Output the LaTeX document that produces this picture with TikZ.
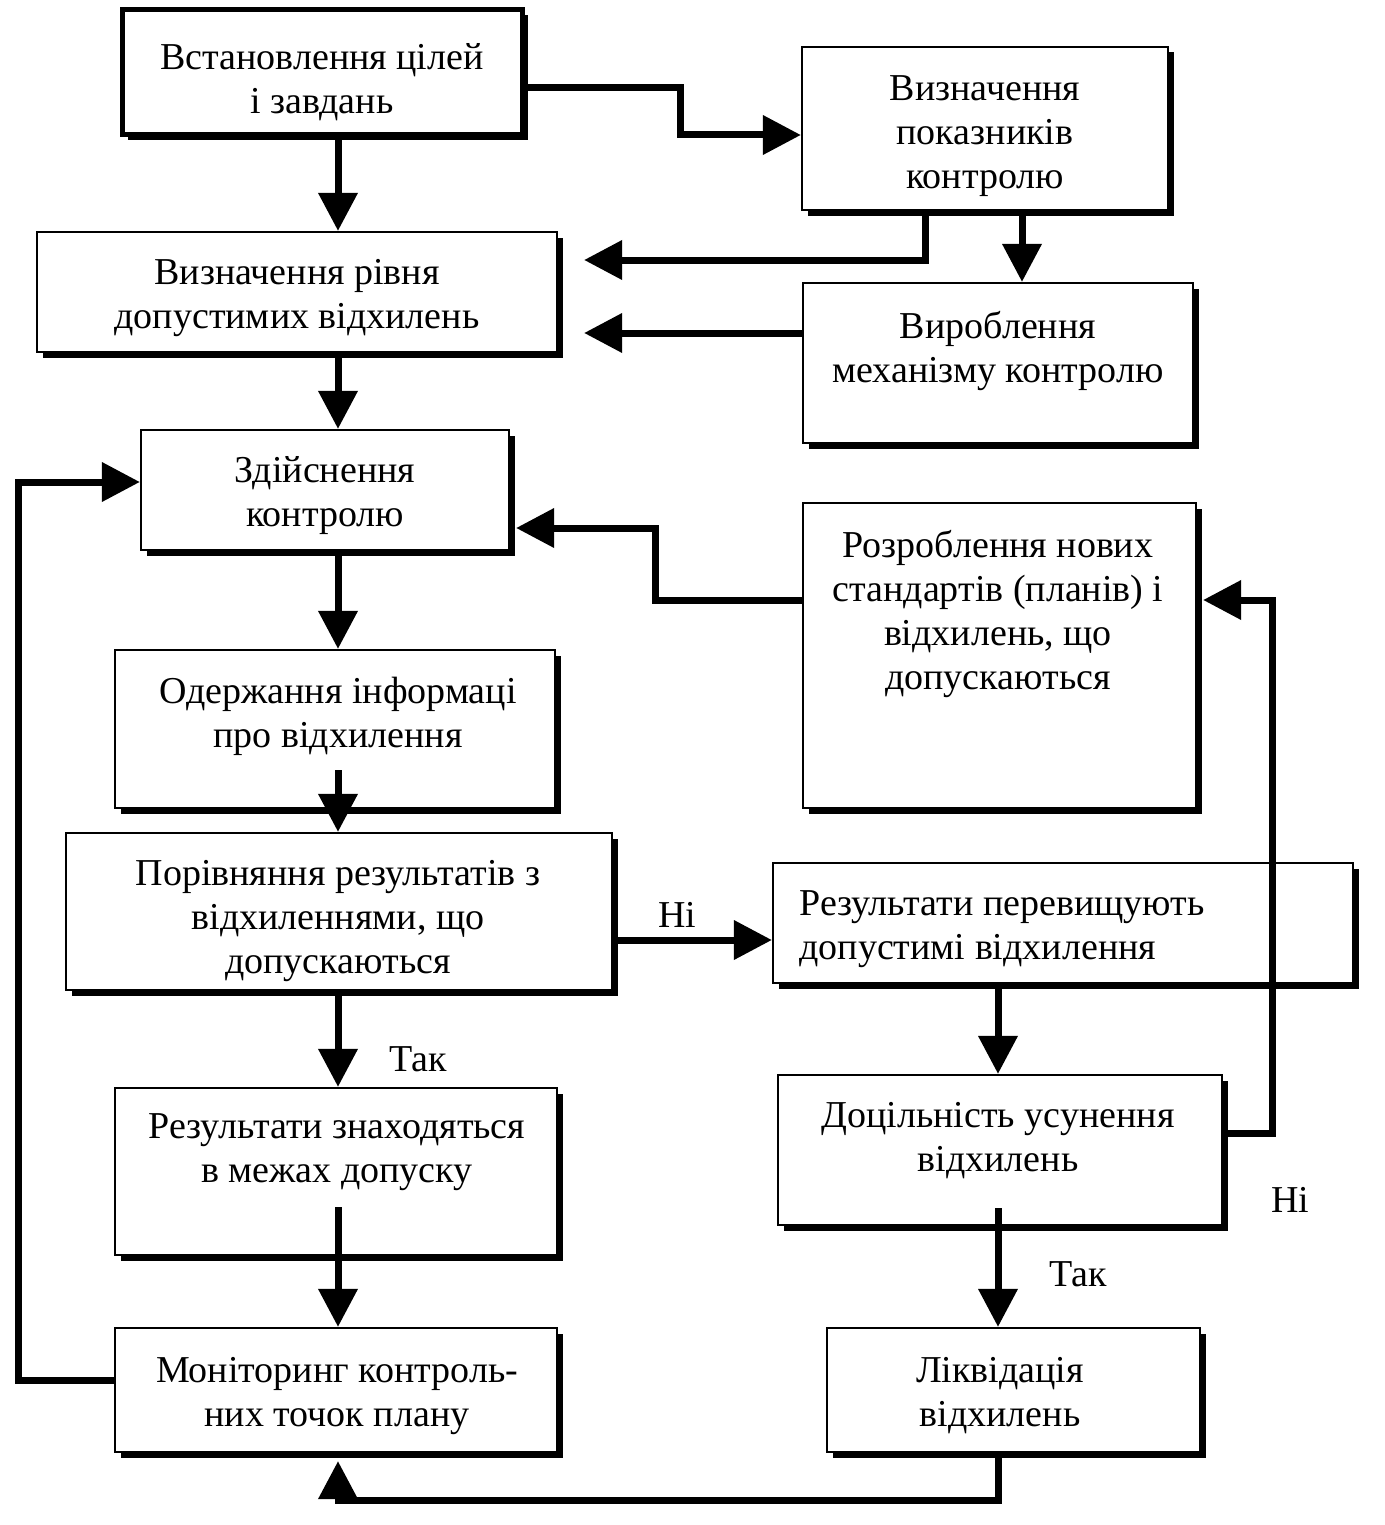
\documentclass[tikz,border=0pt]{standalone}
\usepackage{fontspec}
\setmainfont{Liberation Serif}
\usetikzlibrary{arrows.meta,shadows,calc}
\tikzset{
  box/.style={draw, line width=2.2pt, fill=white, inner sep=0pt,
    drop shadow={shadow xshift=5.5pt, shadow yshift=-5.5pt, opacity=1, fill=black}},
  txt/.style={align=center, inner sep=0pt, font=\fontsize{38}{44}\selectfont},
  conn/.style={line width=7pt, -{Triangle[length=38pt,width=38pt]}},
  lbl/.style={inner sep=0pt, font=\fontsize{38}{44}\selectfont}
}
\begin{document}
\begin{tikzpicture}[x=1pt,y=-1pt]
\useasboundingbox (0,0) rectangle (1384,1525);
% boxes
\node[box, line width=5pt, minimum width=400pt, minimum height=125pt] (b1) at (322,72.5) {};
\node[box, minimum width=366pt, minimum height=163pt] (b2) at (985,128.5) {};
\node[box, minimum width=520pt, minimum height=120pt] (b3) at (297,292) {};
\node[box, minimum width=390pt, minimum height=160pt] (b4) at (998,363) {};
\node[box, minimum width=368pt, minimum height=120pt] (b5) at (325,490) {};
\node[box, minimum width=393pt, minimum height=305pt] (b6) at (999.5,655.5) {};
\node[box, minimum width=440pt, minimum height=158pt] (b7) at (335,729) {};
\node[box, minimum width=546pt, minimum height=157pt] (b8) at (339,911.5) {};
\node[box, minimum width=580pt, minimum height=120pt] (b9) at (1063,923) {};
\node[box, minimum width=442pt, minimum height=167pt] (b10) at (336,1171.5) {};
\node[box, minimum width=444pt, minimum height=150pt] (b11) at (1000,1150) {};
\node[box, minimum width=442pt, minimum height=124pt] (b12) at (336,1390) {};
\node[box, minimum width=373pt, minimum height=124pt] (b13) at (1013.5,1390) {};
% texts
\node[txt] (t1) at (322,82) {Встановлення цілей\\і завдань};
\node[txt] (t2) at (985,136) {Визначення\\показників\\контролю};
\node[txt] (t3) at (297,298) {Визначення рівня\\допустимих відхилень};
\node[txt] (t4) at (998,351) {Вироблення\\механізму контролю};
\node[txt] (t5) at (325,496) {Здійснення\\контролю};
\node[txt] (t6) at (998,614) {Розроблення нових\\стандартів (планів) і\\відхилень, що\\допускаються};
\node[txt] (t7) at (338,716) {Одержання інформаці\\про відхилення};
\node[txt] (t8) at (338,921) {Порівняння результатів з\\відхиленнями, що\\допускаються};
\node[txt, align=left] (t9) at (1002,929) {Результати перевищують\\допустимі відхилення};
\node[txt] (t10) at (337,1152) {Результати знаходяться\\в межах допуску};
\node[txt] (t11) at (998,1141) {Доцільність усунення\\відхилень};
\node[txt] (t12) at (337,1396) {Моніторинг контроль-\\них точок плану};
\node[txt] (t13) at (1000,1396) {Ліквідація\\відхилень};
% labels
\node[lbl] (l1) at (677,915) {Ні};
\node[lbl] (l2) at (418,1059) {Так};
\node[lbl] (l3) at (1290,1200) {Ні};
\node[lbl] (l4) at (1078,1274) {Так};
% connector start points inside boxes
\coordinate (s7) at (338,770);
\coordinate (s10) at (338,1207);
\coordinate (s11) at (998,1208);
% connectors
\draw[conn] (b1.south -| 338,0) -- (b3.north -| 338,0);
\draw[conn] (b1.east |- 0,88) -- (680,88) -- (680,135) -- (b2.west |- 0,135);
\draw[conn, shorten >=26pt] (b2.south -| 925,0) -- (925,260) -- (b3.east |- 0,260);
\draw[conn] (b2.south -| 1022,0) -- (b4.north -| 1022,0);
\draw[conn, shorten >=26pt] (b4.west |- 0,333) -- (b3.east |- 0,333);
\draw[conn] (b3.south -| 338,0) -- (b5.north -| 338,0);
\draw[conn, shorten >=6pt] (b6.west |- 0,600) -- (655,600) -- (655,528) -- (b5.east |- 0,528);
\draw[conn] (b5.south -| 338,0) -- (b7.north -| 338,0);
\draw[conn] (s7) -- (b8.north -| s7);
\draw[conn] (b8.east |- 0,940) -- (b9.west |- 0,940);
\draw[conn] (b8.south -| 338,0) -- (b10.north -| 338,0);
\draw[conn] (b9.south -| 998,0) -- (b11.north -| 998,0);
\draw[conn, shorten >=6pt] (b11.east |- 0,1133) -- (1272,1133) -- (1272,600) -- (b6.east |- 0,600);
\draw[conn] (s10) -- (b12.north -| s10);
\draw[conn] (s11) -- (b13.north -| s11);
\draw[conn] (b12.west |- 0,1380) -- (18,1380) -- (18,482) -- (b5.west |- 0,482);
\draw[conn, shorten >=8pt] (b13.south -| 998,0) -- (998,1500) -- (338,1500) -- (b12.south -| 338,0);
\end{tikzpicture}
\end{document}
